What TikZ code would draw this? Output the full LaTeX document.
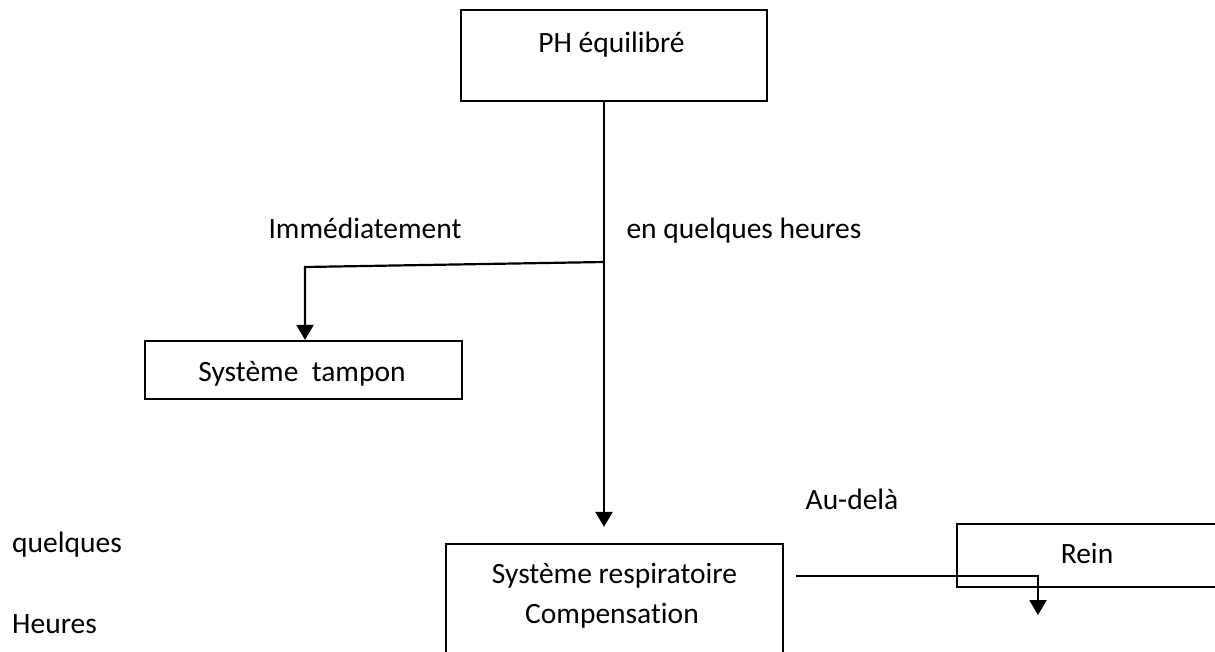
\documentclass[tikz,border=0pt]{standalone}
\usepackage{fontspec}
\setmainfont{Carlito}[Ligatures=NoCommon]
\usetikzlibrary{arrows.meta}
\begin{document}
\begin{tikzpicture}[x=1pt, y=-1pt,
  box/.style={draw, line width=2.2pt, rectangle, inner sep=0pt},
  lbl/.style={inner sep=0pt, anchor=base, font=\fontsize{29.5}{35}\selectfont},
  lblw/.style={lbl, anchor=base west},
  link/.style={line width=2.2pt},
  arr/.style={link, -{Triangle[length=15pt, width=17pt]}}]
  \useasboundingbox (0,0) rectangle (1215,651);
  \clip (0,0) rectangle (1215,651);
  \fill[white] (0,0) rectangle (1215,651);

  % boxes
  \node[box, minimum width=306pt, minimum height=91pt] (ph) at (614,55.5) {};
  \node[box, minimum width=317pt, minimum height=58pt] (tampon) at (303.5,370) {};
  \node[box, minimum width=337pt, minimum height=160pt] (resp) at (614.5,624) {};
  \node[box, minimum width=343pt, minimum height=63pt] (rein) at (1128.5,555.5) {};

  % texts
  \node[lbl] (phT) at (611.5,52) {PH équilibré};
  \node[lbl] (tamponT) at (302,381) {Système\ \ tampon};
  \node[lbl] (respA) at (614.5,583) {Système respiratoire};
  \node[lbl] (respB) at (612,623) {Compensation};
  \node[lbl] (reinT) at (1087,563) {Rein};
  \node[lbl] (immed) at (365,238) {Immédiatement};
  \node[lbl] (heures) at (744,238) {en quelques heures};
  \node[lbl] (audela) at (852,509) {Au-delà};
  \node[lblw] (quelq) at (12,552) {quelques};
  \node[lblw] (heurB) at (12,633) {Heures};

  % connectors
  \coordinate (split) at (604,262);
  \coordinate (bend) at (305,267);
  \coordinate (rr) at (1038,576);
  \coordinate (rt) at (1038,615);
  \draw[arr, shorten >=16pt] (ph.south -| split) -- (resp.north -| split);
  \draw[arr] (split) -- (bend) -- (tampon.north -| bend);
  \draw[arr, shorten <=12pt] (resp.east |- rr) -- (rr) -- (rt);
\end{tikzpicture}
\end{document}
